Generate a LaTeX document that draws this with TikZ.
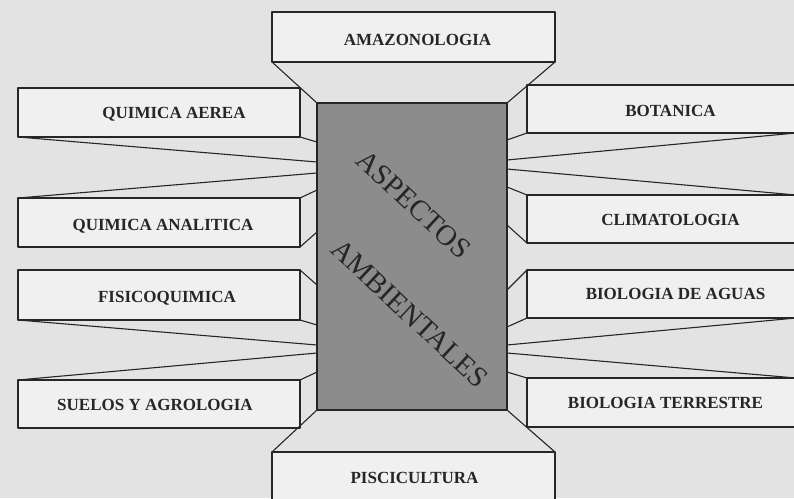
\documentclass[tikz,border=0pt]{standalone}
\usepackage{fontspec}
\setmainfont{Liberation Serif}

\definecolor{paper}{gray}{0.89}
\definecolor{boxfill}{gray}{0.94}
\definecolor{corefill}{gray}{0.55}
\definecolor{ink}{gray}{0.15}

\tikzset{
  edge/.style={draw=ink, line width=1.1pt, line join=round},
  box/.style={edge, fill=boxfill, rectangle, inner sep=0pt, outer sep=0pt},
  lbox/.style={box, minimum width=282pt},
  rbox/.style={box, minimum width=269pt},
  corebox/.style={edge, fill=corefill, rectangle, inner sep=0pt, outer sep=0pt},
  lbl/.style={font=\fontsize{17}{19}\bfseries\selectfont, text=ink},
  diag/.style={font=\fontsize{29}{32}\selectfont, text=ink, inner sep=0pt}
}

\begin{document}
\begin{tikzpicture}[x=1pt,y=-1pt]
    \clip (0,0) rectangle (794,498);
    \fill[paper] (0,0) rectangle (794,498);

    % central block
    \node[corebox, minimum width=190pt, minimum height=307pt] (core) at (412,256.5) {};

    % top and bottom boxes
    \node[box, minimum width=283pt, minimum height=50pt,
          label={[lbl,xshift=4pt,yshift=-3pt]center:AMAZONOLOGIA}] (amaz) at (413.5,37) {};
    \node[box, minimum width=283pt, minimum height=50pt,
          label={[lbl,xshift=1pt,yshift=-1pt]center:PISCICULTURA}] (pisc) at (413.5,477) {};

    % left boxes
    \node[lbox, minimum height=49pt, label={[lbl,xshift=15pt,yshift=-2pt]center:QUIMICA AEREA}] (qaer) at (159,112.5) {};
    \node[lbox, minimum height=49pt, label={[lbl,xshift=4pt,yshift=-4pt]center:QUIMICA ANALITICA}] (qana) at (159,222.5) {};
    \node[lbox, minimum height=50pt, label={[lbl,xshift=8pt,yshift=-3pt]center:FISICOQUIMICA}] (fisi) at (159,295) {};
    \node[lbox, minimum height=48pt, label={[lbl,xshift=-4pt,yshift=-1pt]center:SUELOS Y AGROLOGIA}] (suel) at (159,404) {};

    % right boxes
    \node[rbox, minimum height=48pt, label={[lbl,xshift=9pt,yshift=-2pt]center:BOTANICA}] (bota) at (661.5,109) {};
    \node[rbox, minimum height=48pt, label={[lbl,xshift=9pt,yshift=-1pt]center:CLIMATOLOGIA}] (clim) at (661.5,219) {};
    \node[rbox, minimum height=48pt, label={[lbl,xshift=14pt]center:BIOLOGIA DE AGUAS}] (agua) at (661.5,294) {};
    \node[rbox, minimum height=49pt, label={[lbl,xshift=4pt]center:BIOLOGIA TERRESTRE}] (terr) at (661.5,402.5) {};

    % slanted faces towards the block
    \draw[edge] (amaz.south west) -- (core.north west);
    \draw[edge] (amaz.south east) -- (core.north east);
    \draw[edge] (pisc.north west) -- (core.south west);
    \draw[edge] (pisc.north east) -- (core.south east);
    \foreach \b/\a/\y in {qaer/south east/142, qaer/south west/162, qana/north west/173,
        qana/north east/190, qana/south east/232, fisi/north east/285, fisi/south east/325,
        fisi/south west/345, suel/north west/353, suel/north east/372}
      \draw[edge] (\b.\a) -- (core.west |- 0,\y);
    \foreach \b/\a/\y in {bota/south west/140, bota/south east/160, clim/north east/169,
        clim/north west/187, clim/south west/225, agua/north west/290, agua/south west/327,
        agua/south east/345, terr/north east/353, terr/north west/372}
      \draw[edge] (\b.\a) -- (core.east |- 0,\y);

    % title across the block
    \node[diag, rotate=-43] (asp) at (413.5,204.5) {ASPECTOS};
    \node[diag, rotate=-43] (amb) at (410,313.5) {AMBIENTALES};
\end{tikzpicture}
\end{document}
